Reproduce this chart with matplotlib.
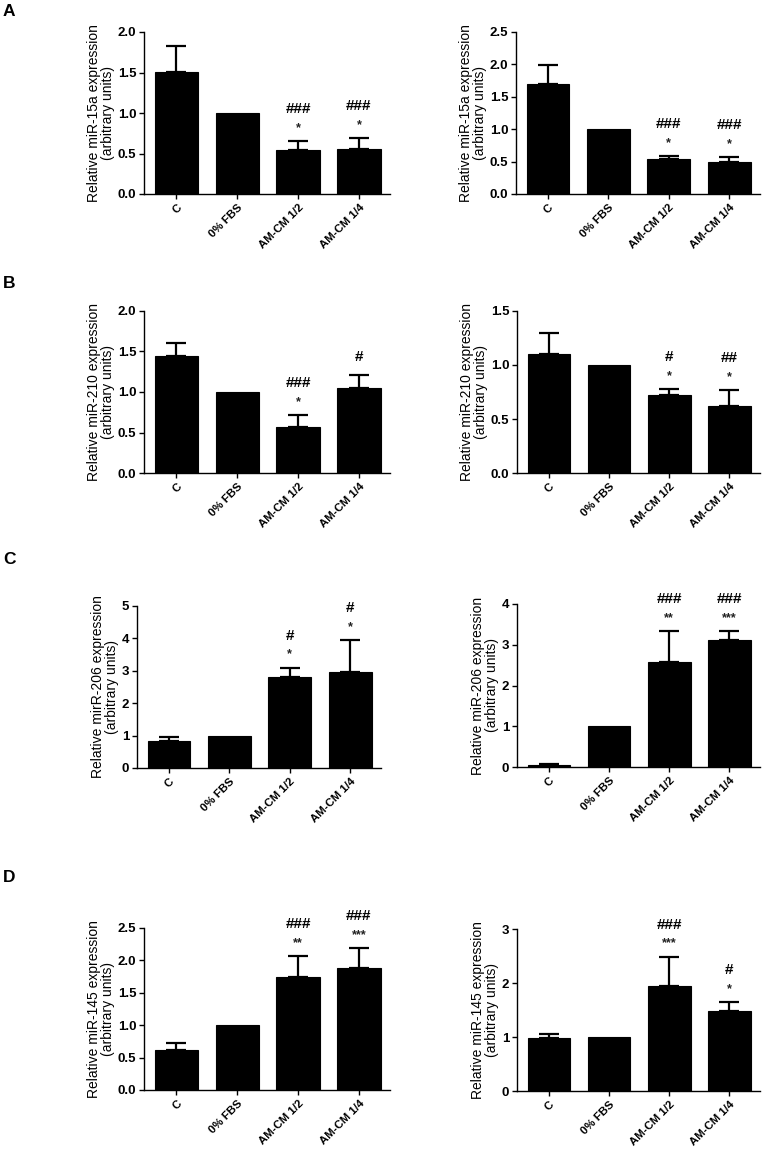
import matplotlib
matplotlib.use('Agg')
import matplotlib.pyplot as plt
import numpy as np
from matplotlib.ticker import FormatStrFormatter

plt.rcParams['font.family'] = ['Liberation Sans', 'DejaVu Sans']

categories = ['C', '0% FBS', 'AM-CM 1/2', 'AM-CM 1/4']

# Panel A (miR-15a)
a1_mean = [1.51, 1.00, 0.54, 0.56]
a1_err = [0.32, 0.0, 0.11, 0.13]
a1_star = ['', '', '*', '*']
a1_hash = ['', '', '###', '###']

a2_mean = [1.69, 1.00, 0.54, 0.50]
a2_err = [0.30, 0.0, 0.04, 0.07]
a2_star = ['', '', '*', '*']
a2_hash = ['', '', '###', '###']

# Panel B (miR-210)
b1_mean = [1.45, 1.00, 0.57, 1.05]
b1_err = [0.16, 0.0, 0.15, 0.16]
b1_star = ['', '', '*', '']
b1_hash = ['', '', '###', '#']

b2_mean = [1.10, 1.00, 0.72, 0.62]
b2_err = [0.20, 0.0, 0.06, 0.15]
b2_star = ['', '', '*', '*']
b2_hash = ['', '', '#', '##']

# Panel C (miR-206)
c1_mean = [0.83, 1.00, 2.82, 2.95]
c1_err = [0.13, 0.0, 0.28, 1.00]
c1_star = ['', '', '*', '*']
c1_hash = ['', '', '#', '#']

c2_mean = [0.06, 1.00, 2.58, 3.12]
c2_err = [0.01, 0.0, 0.76, 0.22]
c2_star = ['', '', '**', '***']
c2_hash = ['', '', '###', '###']

# Panel D (miR-145)
d1_mean = [0.62, 1.00, 1.75, 1.88]
d1_err = [0.11, 0.0, 0.32, 0.31]
d1_star = ['', '', '**', '***']
d1_hash = ['', '', '###', '###']

d2_mean = [0.99, 1.00, 1.94, 1.49]
d2_err = [0.06, 0.0, 0.55, 0.15]
d2_star = ['', '', '***', '*']
d2_hash = ['', '', '###', '#']

W, H = 762, 1149
fig = plt.figure(figsize=(W / 100, H / 100), dpi=100)


def rect(x0, y0, x1, y1):
    return [x0 / W, 1 - y1 / H, (x1 - x0) / W, (y1 - y0) / H]


panels = [
    (rect(144, 32, 390, 194), a1_mean, a1_err, a1_star, a1_hash, 'Relative miR-15a expression', 2.0, 0.5, '%.1f'),
    (rect(516, 32, 760, 194), a2_mean, a2_err, a2_star, a2_hash, 'Relative miR-15a expression', 2.5, 0.5, '%.1f'),
    (rect(144, 311, 390, 473), b1_mean, b1_err, b1_star, b1_hash, 'Relative miR-210 expression', 2.0, 0.5, '%.1f'),
    (rect(517, 311, 760, 473), b2_mean, b2_err, b2_star, b2_hash, 'Relative miR-210 expression', 1.5, 0.5, '%.1f'),
    (rect(137, 606, 381, 768), c1_mean, c1_err, c1_star, c1_hash, 'Relative mirR-206 expression', 5, 1, '%d'),
    (rect(517, 604, 760, 767), c2_mean, c2_err, c2_star, c2_hash, 'Relative miR-206 expression', 4, 1, '%d'),
    (rect(144, 928, 390, 1090), d1_mean, d1_err, d1_star, d1_hash, 'Relative miR-145 expression', 2.5, 0.5, '%.1f'),
    (rect(517, 929, 760, 1091), d2_mean, d2_err, d2_star, d2_hash, 'Relative miR-145 expression', 3, 1, '%d'),
]

for r, mean, err, stars, hashes, ylab, ytop, ystep, fmt in panels:
    ax = fig.add_axes(r)
    x = np.arange(len(categories))
    ax.bar(x, mean, width=0.71, color='black', edgecolor='black', linewidth=0.8, zorder=2)
    for i in range(len(categories)):
        if err[i] > 0:
            ax.errorbar(x[i], mean[i], yerr=[[0], [err[i]]], fmt='none', ecolor='black',
                        elinewidth=1.6, capsize=7.5, capthick=1.6, zorder=1)
        top = mean[i] + err[i]
        if stars[i]:
            ax.annotate(stars[i], xy=(x[i], top), xytext=(0, 13), textcoords='offset pixels',
                        ha='center', va='center', fontsize=9, fontweight='bold', color='#222222')
            if hashes[i]:
                ax.annotate(hashes[i], xy=(x[i], top), xytext=(0, 32), textcoords='offset pixels',
                            ha='center', va='center', fontsize=11, fontweight='bold')
        elif hashes[i]:
            ax.annotate(hashes[i], xy=(x[i], top), xytext=(0, 18), textcoords='offset pixels',
                        ha='center', va='center', fontsize=11, fontweight='bold')
    ax.set_xlim(-0.53, 3.51)
    ax.set_ylim(0, ytop)
    ax.set_yticks(np.arange(0, ytop + ystep / 2, ystep))
    ax.yaxis.set_major_formatter(FormatStrFormatter(fmt))
    ax.set_xticks(x)
    ax.set_xticklabels(categories, rotation=45, ha='right', rotation_mode='anchor',
                       fontsize=8.2, fontweight='bold')
    for lab in ax.get_yticklabels():
        lab.set_fontweight('bold')
        lab.set_fontsize(9.5)
    ax.spines['top'].set_visible(False)
    ax.spines['right'].set_visible(False)
    ax.spines['left'].set_linewidth(1.0)
    ax.spines['bottom'].set_linewidth(1.0)
    ax.tick_params(axis='both', direction='out', length=3.5, width=1.0, pad=2)
    ax.tick_params(axis='x', pad=2.5)
    ax.set_ylabel(ylab + '\n(arbitrary units)', fontsize=10, labelpad=2, linespacing=1.05)

for letter, y in [('A', 12), ('B', 283), ('C', 560), ('D', 878)]:
    fig.text(3 / W, 1 - y / H, letter, fontsize=12.5, fontweight='bold', va='center', ha='left')

fig.savefig('out.png', dpi=100)
